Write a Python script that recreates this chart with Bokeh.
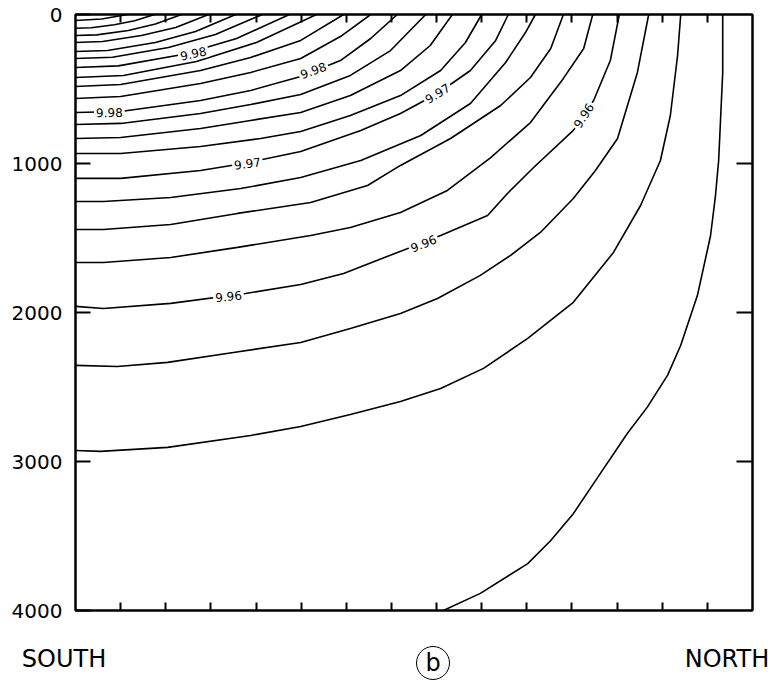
from bokeh.plotting import figure
from bokeh.models import Range1d, LinearAxis, FixedTicker, Label, Div
from bokeh.layouts import column
from bokeh.embed import file_html
from bokeh.resources import INLINE

# ---- data (distance in tick units South->North, depth in m) ----
depth_ticks = [0, 1000, 2000, 3000, 4000]
side_depth_ticks = [1000, 2000, 3000]
dist_ticks = [1, 2, 3, 4, 5, 6, 7, 8, 9, 10, 11, 12, 13, 14]

contour_x = [
    [0, 0.58, 1.15],
    [0, 0.35, 0.86, 1.31, 1.75],
    [0, 0.47, 1.17, 1.77, 2.35],
    [0, 0.60, 1.46, 2.22, 2.95],
    [0, 0.71, 1.77, 2.66, 3.55],
    [0, 0.82, 2.06, 3.10, 4.14],
    [0, 0.95, 2.37, 3.57, 4.74],
    [0, 1.06, 2.68, 4.01, 5.34],
    [0, 1.0, 2.77, 3.88, 4.99, 5.94],
    [0, 1.0, 2.77, 3.88, 4.99, 5.87, 6.54],
    [0, 1.0, 2.77, 3.88, 4.99, 5.87, 6.54, 7.13],
    [0, 1.0, 2.77, 3.88, 4.99, 6.09, 6.98, 7.76],
    [0, 1.0, 2.77, 3.88, 4.99, 6.09, 7.20, 7.86, 8.35],
    [0, 1.0, 2.77, 4.10, 4.99, 6.09, 7.20, 8.09, 8.64, 9.00],
    [0, 1.0, 2.77, 3.72, 4.99, 6.32, 7.20, 8.02, 8.75, 9.31, 9.59],
    [0, 0.62, 2.11, 3.66, 4.99, 6.32, 7.65, 8.75, 9.53, 9.97, 10.19],
    [0, 0.62, 2.11, 3.59, 5.21, 6.47, 7.20, 8.31, 9.42, 10.08, 10.53, 10.81],
    [0, 0.62, 2.11, 3.59, 5.21, 6.09, 7.20, 8.24, 9.20, 10.08, 10.81, 11.26, 11.46],
    [0, 0.62, 2.11, 3.77, 4.99, 5.94, 7.42, 8.09, 9.13, 9.57, 10.15, 11.03, 11.48, 11.85, 12.05],
    [0, 0.93, 2.04, 3.50, 4.99, 6.09, 7.20, 8.02, 8.97, 9.64, 10.30, 11.03, 11.52, 12.01, 12.45, 12.70],
    [0, 0.55, 2.04, 3.88, 4.99, 6.09, 7.20, 8.09, 9.04, 10.02, 11.03, 11.92, 12.52, 12.96, 13.18, 13.34, 13.41],
    [14.34, 14.34, 14.25, 14.18, 14.07, 13.78, 13.41, 13.12, 12.67, 12.23, 11.63, 11.03, 10.53, 10.02, 8.97, 8.15],
]
contour_depth = [
    [40, 30, 0],
    [92, 89, 69, 42, 0],
    [141, 137, 107, 64, 0],
    [188, 181, 141, 87, 0],
    [248, 242, 188, 114, 0],
    [295, 287, 221, 134, 0],
    [356, 345, 268, 161, 0],
    [423, 409, 315, 188, 0],
    [483, 470, 376, 289, 174, 0],
    [564, 550, 463, 389, 295, 148, 0],
    [658, 651, 577, 510, 416, 309, 161, 0],
    [738, 731, 664, 604, 537, 409, 242, 0],
    [832, 825, 765, 711, 658, 544, 376, 208, 0],
    [933, 933, 886, 832, 785, 678, 544, 376, 188, 0],
    [1100, 1100, 1047, 1000, 919, 778, 664, 530, 376, 174, 0],
    [1255, 1255, 1228, 1168, 1094, 980, 812, 597, 322, 121, 0],
    [1443, 1443, 1409, 1335, 1262, 1148, 1013, 832, 611, 423, 228, 0],
    [1664, 1664, 1631, 1563, 1483, 1429, 1329, 1181, 960, 725, 429, 228, 0],
    [1959, 1973, 1939, 1872, 1812, 1738, 1563, 1483, 1349, 1201, 1027, 778, 577, 309, 0],
    [2355, 2362, 2335, 2268, 2201, 2107, 2006, 1906, 1751, 1617, 1463, 1235, 1047, 832, 389, 0],
    [2926, 2932, 2905, 2825, 2765, 2684, 2597, 2510, 2375, 2174, 1932, 1597, 1282, 980, 678, 275, 0],
    [0, 390, 980, 1215, 1485, 1885, 2220, 2420, 2635, 2810, 3080, 3350, 3530, 3685, 3885, 4000],
]

label_text = ["9.98", "9.98", "9.98", "9.97", "9.97", "9.96", "9.96", "9.96"]
label_x = [2.61, 5.27, 0.75, 3.81, 8.02, 3.39, 7.71, 11.26]
label_depth = [262, 375, 658, 1000, 530, 1892, 1537, 678]
label_angle = [12, 20, 1, 8, 32, 6, 22, 57]

south_text = "SOUTH"
north_text = "NORTH"
panel_text = "b"

FONT = "DejaVu Sans"

p = figure(width=783, height=624, x_range=Range1d(0, 15), y_range=Range1d(4000, 0),
           output_backend="svg", toolbar_location=None,
           x_axis_location=None, y_axis_location=None,
           min_border_left=75, min_border_right=31, min_border_top=14, min_border_bottom=14)
p.grid.grid_line_color = None
p.outline_line_color = "black"
p.outline_line_width = 2

def side_axis(ticks, tick_in, labels=False):
    ax = LinearAxis(ticker=FixedTicker(ticks=ticks), major_tick_in=tick_in, major_tick_out=0,
                    minor_tick_line_color=None, axis_line_width=2, axis_line_color="black",
                    major_tick_line_width=2, major_tick_line_color="black")
    if labels:
        ax.major_label_text_font = FONT
        ax.major_label_text_font_size = "20px"
        ax.major_label_text_color = "black"
        ax.major_label_standoff = 13
    else:
        ax.major_label_overrides = {t: "" for t in ticks}
        ax.major_label_text_font_size = "1px"
        ax.major_label_standoff = 0
    return ax

p.add_layout(side_axis(depth_ticks, 15, labels=True), "left")
p.add_layout(side_axis(side_depth_ticks, 16), "right")
p.add_layout(side_axis(dist_ticks, 8), "above")
p.add_layout(side_axis(dist_ticks, 8), "below")

p.multi_line(xs=contour_x, ys=contour_depth, line_color="black", line_width=1.6)

for t, x, d, a in zip(label_text, label_x, label_depth, label_angle):
    p.add_layout(Label(x=x, y=d, text=t, angle=a, angle_units="deg",
                       text_align="center", text_baseline="middle",
                       text_font=FONT, text_font_size="12px", text_color="black",
                       background_fill_color="white", padding=2))

# caption strip under the section: SOUTH  (b)  NORTH
span = ("position:absolute;top:{top}px;left:{left}px;transform:translate(-50%,-50%);"
        "white-space:nowrap;line-height:1;")
caption = (
    f'<div style="position:relative;width:783px;height:64px;font-family:\'{FONT}\';'
    f'font-size:24px;color:black;">'
    f'<span style="{span.format(top=35, left=64)}">{south_text}</span>'
    f'<span style="{span.format(top=39, left=433)}width:34px;height:34px;'
    f'border:1.5px solid black;border-radius:50%;display:flex;align-items:center;'
    f'justify-content:center;">{panel_text}</span>'
    f'<span style="{span.format(top=35, left=727)}">{north_text}</span>'
    f'</div>'
)
cap = Div(text=caption, width=783, height=64, margin=0)

open("out.html", "w").write(file_html(column(p, cap, spacing=0), INLINE))
